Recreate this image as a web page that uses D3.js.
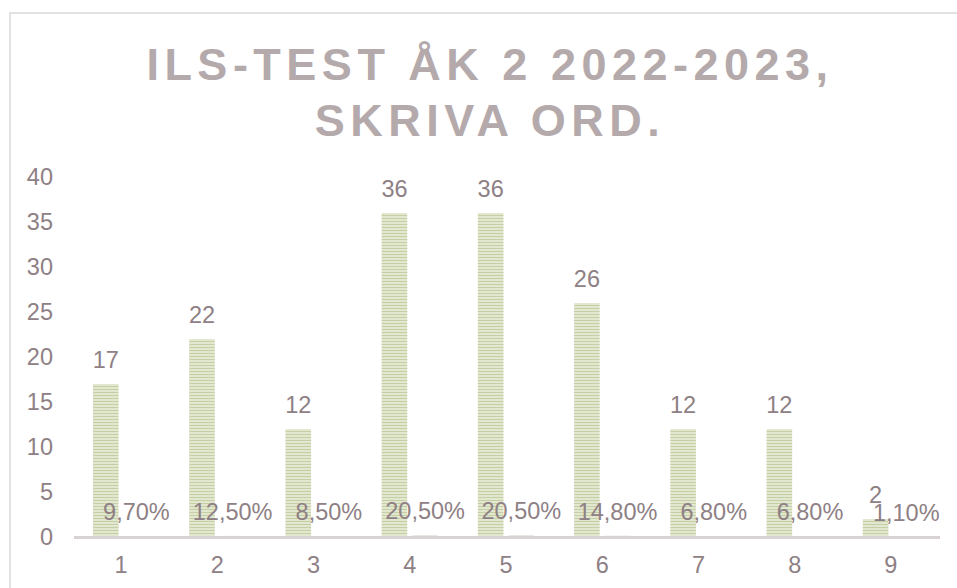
<!DOCTYPE html>
<html>
<head>
<meta charset="utf-8">
<script src="https://cdn.jsdelivr.net/npm/d3@7"></script>
<style>
  body { margin: 0; background: #fff; }
  svg { display: block; font-family: "Liberation Sans", Arial, sans-serif; }
</style>
</head>
<body>
<svg id="chart" width="957" height="588"></svg>
<script>
const categories = ["1", "2", "3", "4", "5", "6", "7", "8", "9"]
const counts = [17, 22, 12, 36, 36, 26, 12, 12, 2]
const shares = [0.097, 0.125, 0.085, 0.205, 0.205, 0.148, 0.068, 0.068, 0.011]
const yTicks = [0, 5, 10, 15, 20, 25, 30, 35, 40]
const titleLines = ["ILS-TEST ÅK 2 2022-2023,", "SKRIVA ORD."]

const svg = d3.select('#chart')
const textColor = '#8e8084'
const fontSize = 23.5
const sv = d3.formatLocale({decimal: ',', thousands: ' ', grouping: [3], currency: ['', ' kr']})
const pct = sv.format('.2%')

// striped fill like the excel pattern
const defs = svg.append('defs')
const pat = defs.append('pattern')
    .attr('id', 'stripes')
    .attr('patternUnits', 'userSpaceOnUse')
    .attr('width', 4).attr('height', 3)
pat.append('rect').attr('width', 4).attr('height', 3).attr('fill', '#e2e7cf')
pat.append('rect').attr('y', 2).attr('width', 4).attr('height', 1).attr('fill', '#c6cea6')

// chart border
svg.append('path')
    .attr('d', 'M10,600 V13 H960')
    .attr('fill', 'none')
    .attr('stroke', '#e2e2e2')
    .attr('stroke-width', 2)

// title
svg.append('g')
    .selectAll('text')
    .data(titleLines)
    .join('text')
    .attr('x', 490)
    .attr('y', (d, i) => 80 + i * 56)
    .attr('text-anchor', 'middle')
    .attr('font-size', 45)
    .attr('font-weight', 'bold')
    .attr('letter-spacing', 5.5)
    .attr('fill', '#b4a9ab')
    .text(d => d)

const x0 = d3.scaleBand().domain(categories).range([73, 939]).paddingInner(0.415).paddingOuter(0.2075)
const x1 = d3.scaleBand().domain([0, 1]).range([0, x0.bandwidth()]).paddingInner(0.164)
const y = d3.scaleLinear().domain([0, 40]).range([537, 177])

// y axis labels only
svg.append('g')
    .attr('transform', 'translate(53,0)')
    .call(d3.axisLeft(y).tickValues(yTicks).tickSize(0).tickPadding(0))
    .call(g => g.select('.domain').remove())
    .selectAll('text')
    .attr('font-size', fontSize)
    .attr('font-family', '"Liberation Sans", Arial, sans-serif')
    .attr('fill', textColor)

// bars, counts
svg.append('g')
    .selectAll('rect')
    .data(counts)
    .join('rect')
    .attr('x', (d, i) => x0(categories[i]) + x1(0))
    .attr('y', d => y(d))
    .attr('width', x1.bandwidth())
    .attr('height', d => y(0) - y(d))
    .attr('fill', 'url(#stripes)')

// bars, shares
svg.append('g')
    .selectAll('rect')
    .data(shares)
    .join('rect')
    .attr('x', (d, i) => x0(categories[i]) + x1(1))
    .attr('y', d => y(d))
    .attr('width', x1.bandwidth())
    .attr('height', d => y(0) - y(d))
    .attr('fill', '#dfe7dc')

// x axis
svg.append('g')
    .attr('transform', `translate(0,${y(0)})`)
    .call(d3.axisBottom(x0).tickSize(0).tickPadding(19))
    .call(g => g.select('.domain')
        .attr('d', 'M74,0.5H940')
        .attr('stroke', '#d8d2d3')
        .attr('stroke-width', 3))
    .selectAll('text')
    .attr('font-size', fontSize)
    .attr('font-family', '"Liberation Sans", Arial, sans-serif')
    .attr('fill', textColor)

// value labels
svg.append('g')
    .selectAll('text')
    .data(counts)
    .join('text')
    .attr('x', (d, i) => x0(categories[i]) + x1(0) + x1.bandwidth() / 2)
    .attr('y', d => y(d) - 16)
    .attr('text-anchor', 'middle')
    .attr('font-size', fontSize)
    .attr('fill', textColor)
    .text(d => d)

svg.append('g')
    .selectAll('text')
    .data(shares)
    .join('text')
    .attr('x', (d, i) => x0(categories[i]) + x1(1) + x1.bandwidth() / 2)
    .attr('y', d => y(d) - 16)
    .attr('text-anchor', 'middle')
    .attr('font-size', fontSize)
    .attr('fill', textColor)
    .text(d => pct(d))
</script>
</body>
</html>
